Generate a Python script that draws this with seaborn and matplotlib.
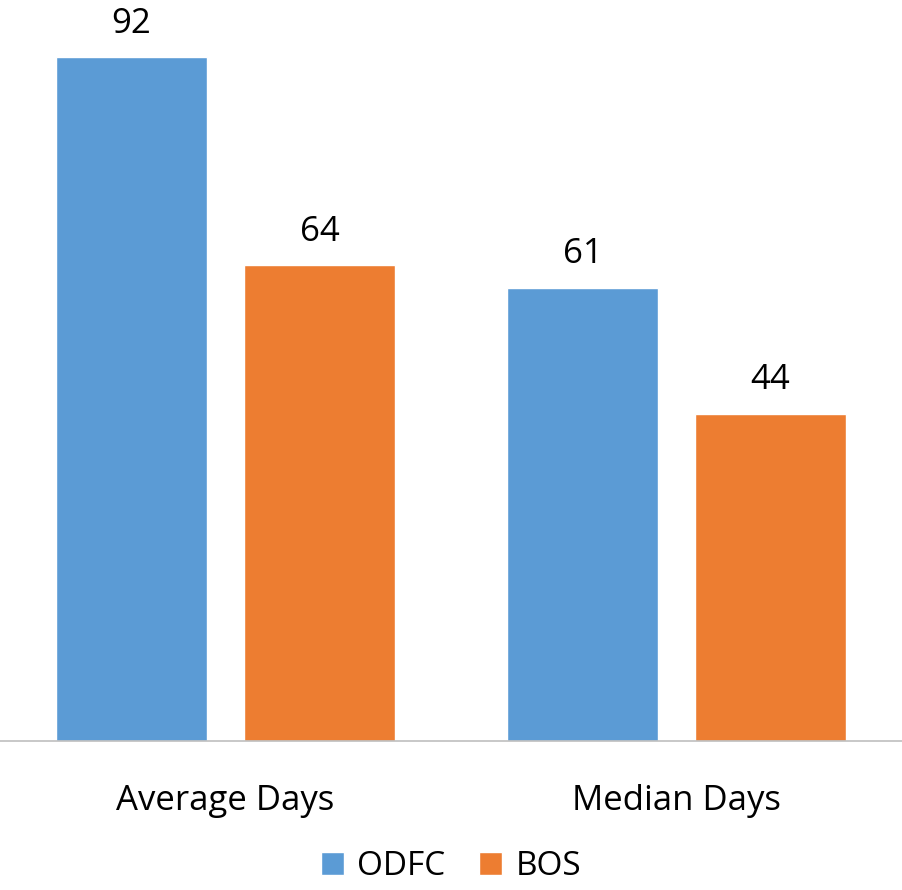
import pandas as pd
import matplotlib.pyplot as plt
import seaborn as sns

# data
categories = ["Average Days", "Median Days"]
groups = ["ODFC", "BOS"]
odfc_vals = [92, 61]
bos_vals = [64, 44]

df = pd.DataFrame({
    "metric": categories * 2,
    "group": [groups[0]] * 2 + [groups[1]] * 2,
    "days": odfc_vals + bos_vals,
})

sns.set_style("white")
plt.rcParams["font.family"] = ["Open Sans", "DejaVu Sans"]
plt.rcParams["text.color"] = "black"
plt.rcParams["xtick.color"] = "black"

fig = plt.figure(figsize=(9.02, 8.90), dpi=100)
ax = fig.add_axes([0.0, 0.1674, 1.0, 0.8326])

sns.barplot(data=df, x="metric", y="days", hue="group",
            palette=["#5B9BD5", "#ED7D31"], width=0.833, gap=0.2,
            saturation=1, ax=ax, legend=True)

for c in ax.containers:
    ax.bar_label(c, fmt="%d", padding=12, fontsize=25, color="black")

ax.set_xlim(-0.5, 1.5)
ax.set_ylim(0, 99.7)
ax.set_xlabel("")
ax.set_ylabel("")
ax.set_yticks([])
ax.tick_params(axis="x", length=0, pad=31, labelsize=25, labelcolor="black")
for s in ["top", "left", "right"]:
    ax.spines[s].set_visible(False)
ax.spines["bottom"].set_color("#BFBFBF")
ax.spines["bottom"].set_linewidth(1.2)

handles, labels = ax.get_legend_handles_labels()
ax.get_legend().remove()
fig.legend(handles, labels, loc="center", bbox_to_anchor=(0.5, 0.026),
           ncol=2, frameon=False, fontsize=24, handlelength=0.7,
           handleheight=0.7, handletextpad=0.4, columnspacing=1.0,
           borderpad=0.1)

plt.savefig("out.png", dpi=100)
